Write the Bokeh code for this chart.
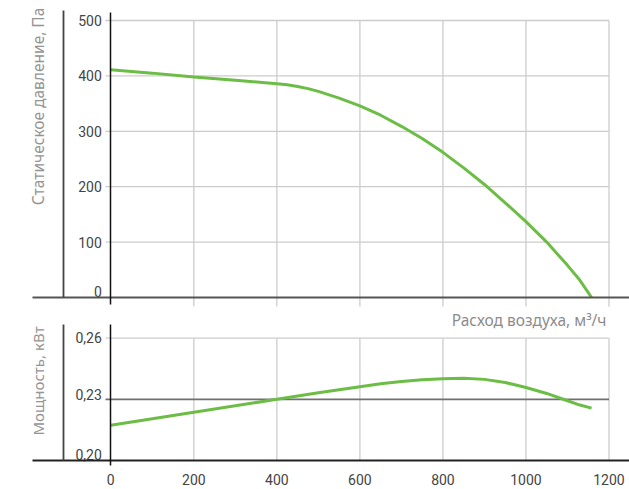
from math import pi

from bokeh.core.properties import value
from bokeh.embed import file_html
from bokeh.layouts import column
from bokeh.models import (ColumnDataSource, FixedTicker, Label, LinearAxis,
                          Range1d)
from bokeh.plotting import figure
from bokeh.resources import INLINE

# ---- data -------------------------------------------------------------
flow_ticks = [0, 200, 400, 600, 800, 1000, 1200]          # м³/ч
pressure_ticks = [0, 100, 200, 300, 400, 500]             # Па
pressure_labels = ["0", "100", "200", "300", "400", "500"]
power_ticks = [0.20, 0.23, 0.26]                          # кВт
power_labels = ["0,20", "0,23", "0,26"]
power_ref = 0.23                                          # highlighted level

pressure_flow = [0, 100, 200, 300, 400, 425, 450, 475, 500, 550, 600, 650,
                 700, 750, 800, 850, 900, 950, 1000, 1050, 1100, 1130, 1158]
pressure_pa = [411, 405, 398, 392, 386, 384, 381, 377, 372, 360, 346, 329,
               309, 287, 262, 234, 204, 171, 137, 100, 58, 31, 0]

power_flow = [0, 200, 400, 500, 600, 650, 700, 750, 800, 850, 900, 950,
              1000, 1050, 1100, 1130, 1158]
power_kw = [0.2173, 0.2237, 0.2300, 0.2332, 0.2362, 0.2376, 0.2388, 0.2396,
            0.2401, 0.2404, 0.2398, 0.2383, 0.2358, 0.2329, 0.2293, 0.2272,
            0.2257]

# ---- layout geometry (pixels) ------------------------------------------
W = 629
H_TOP, H_BOT = 309, 180
X0_PX, X1200_PX = 110.3, 608.5
sx = (X1200_PX - X0_PX) / 1200.0

def fx(px):
    return (px - X0_PX) / sx

# top panel: 500 Па at y=20 px, 0 Па at y=297 px
T500, T0 = 20.0, 297.0
sy1 = (T0 - T500) / 500.0

def fy1(py):
    return (T0 - py) / sy1

# bottom panel (local px): 0.26 at 28.7, 0.20 at 151
B26, B20 = 28.7, 151.0
sy2 = (B20 - B26) / 0.06

def fy2(py):
    return 0.20 + (B20 - py) / sy2

GREEN = "#6cbd45"
GRID = "#cccccc"
TICK_FONT = "Roboto"
TICK_COLOR = "#444444"
TITLE_FONT = "Noto Sans"
TITLE_COLOR = "#949494"

# vertical nudge (px) of each tick label above its grid line
pressure_lift = [6, 0, 0, 0, 0, 0]
power_lift = [6, 5, 1]


def make_fig(height, y_start, y_end):
    p = figure(width=W, height=height, output_backend="svg",
               toolbar_location=None, x_axis_type=None, y_axis_type=None,
               x_range=Range1d(fx(0), fx(W)), y_range=Range1d(y_start, y_end),
               min_border=0, outline_line_color=None)
    p.grid.visible = False
    return p


def bare_axis(loc, bounds, color, width):
    return LinearAxis(fixed_location=loc, bounds=bounds,
                      ticker=FixedTicker(ticks=[]),
                      axis_line_color=color, axis_line_width=width,
                      major_tick_line_color=None, minor_tick_line_color=None)


def y_tick_labels(p, ticks, labels, lift):
    src = ColumnDataSource(dict(x=[0] * len(ticks), y=ticks, text=labels,
                                dy=[-v for v in lift]))
    p.text(x="x", y="y", text="text", y_offset="dy", x_offset=-9,
           source=src, text_align="right", text_baseline="alphabetic",
           text_font=value(TICK_FONT), text_font_size="14px",
           text_color=TICK_COLOR)


# ---- top: static pressure ---------------------------------------------
p1 = make_fig(H_TOP, fy1(H_TOP), fy1(0))

grid_x = flow_ticks[1:]
p1.segment(x0=grid_x, y0=[fy1(306)] * len(grid_x), x1=grid_x,
           y1=[pressure_ticks[-1]] * len(grid_x),
           line_color=GRID, line_width=1.3)
grid_y = pressure_ticks[1:]
p1.segment(x0=[fx(105)] * len(grid_y), y0=grid_y,
           x1=[flow_ticks[-1]] * len(grid_y), y1=grid_y,
           line_color=GRID, line_width=1.3)

p1.line(pressure_flow, pressure_pa, line_color=GREEN, line_width=3)

y_tick_labels(p1, pressure_ticks, pressure_labels, pressure_lift)
p1.add_layout(bare_axis(0, (fy1(304), fy1(12)), "#111111", 1.5), "left")
p1.add_layout(bare_axis(fx(63), (0, fy1(10)), "#444444", 1.8), "left")
p1.add_layout(bare_axis(0, (fx(32), fx(W)), "#555555", 2.2), "below")

p1.add_layout(Label(x=fx(37.5), y=fy1(106), text="Статическое давление, Па",
                    angle=pi / 2, text_align="center", text_baseline="middle",
                    text_color=TITLE_COLOR, text_font=TITLE_FONT,
                    text_font_size="15.5px"))

# ---- bottom: power ------------------------------------------------------
p2 = make_fig(H_BOT, fy2(H_BOT), fy2(0))

p2.segment(x0=grid_x, y0=[power_ticks[0]] * len(grid_x), x1=grid_x,
           y1=[power_ticks[-1]] * len(grid_x),
           line_color=GRID, line_width=1.3)
p2.segment(x0=[fx(105)], y0=[power_ticks[-1]], x1=[flow_ticks[-1]],
           y1=[power_ticks[-1]], line_color=GRID, line_width=1.3)
p2.segment(x0=[fx(105)], y0=[power_ref], x1=[flow_ticks[-1]],
           y1=[power_ref], line_color="#707070", line_width=1.6)

p2.line(power_flow, power_kw, line_color=GREEN, line_width=3)

y_tick_labels(p2, power_ticks, power_labels, power_lift)
p2.add_layout(bare_axis(0, (fy2(156), fy2(15)), "#111111", 1.5), "left")
p2.add_layout(bare_axis(fx(63), (power_ticks[0], fy2(15)), "#444444", 1.8),
              "left")

xax2 = LinearAxis(fixed_location=power_ticks[0], bounds=(fx(32), fx(W)),
                  ticker=FixedTicker(ticks=flow_ticks),
                  axis_line_color="#222222", axis_line_width=1.8,
                  major_tick_line_color=None, minor_tick_line_color=None,
                  major_label_standoff=7,
                  major_label_text_color=TICK_COLOR,
                  major_label_text_font=TICK_FONT,
                  major_label_text_font_size="14px")
p2.add_layout(xax2, "below")

p2.add_layout(Label(x=fx(37.5), y=fy2(380.5 - H_TOP), text="Мощность, кВт",
                    angle=pi / 2, text_align="center", text_baseline="middle",
                    text_color=TITLE_COLOR, text_font=TITLE_FONT,
                    text_font_size="15px"))
p2.add_layout(Label(x=fx(606), y=fy2(319 - H_TOP), text="Расход воздуха, м³/ч",
                    text_align="right", text_baseline="middle",
                    text_color="#8c8c8c", text_font=TITLE_FONT,
                    text_font_size="15.5px"))

layout = column(p1, p2, spacing=0)
open("out.html", "w").write(file_html(layout, INLINE))
